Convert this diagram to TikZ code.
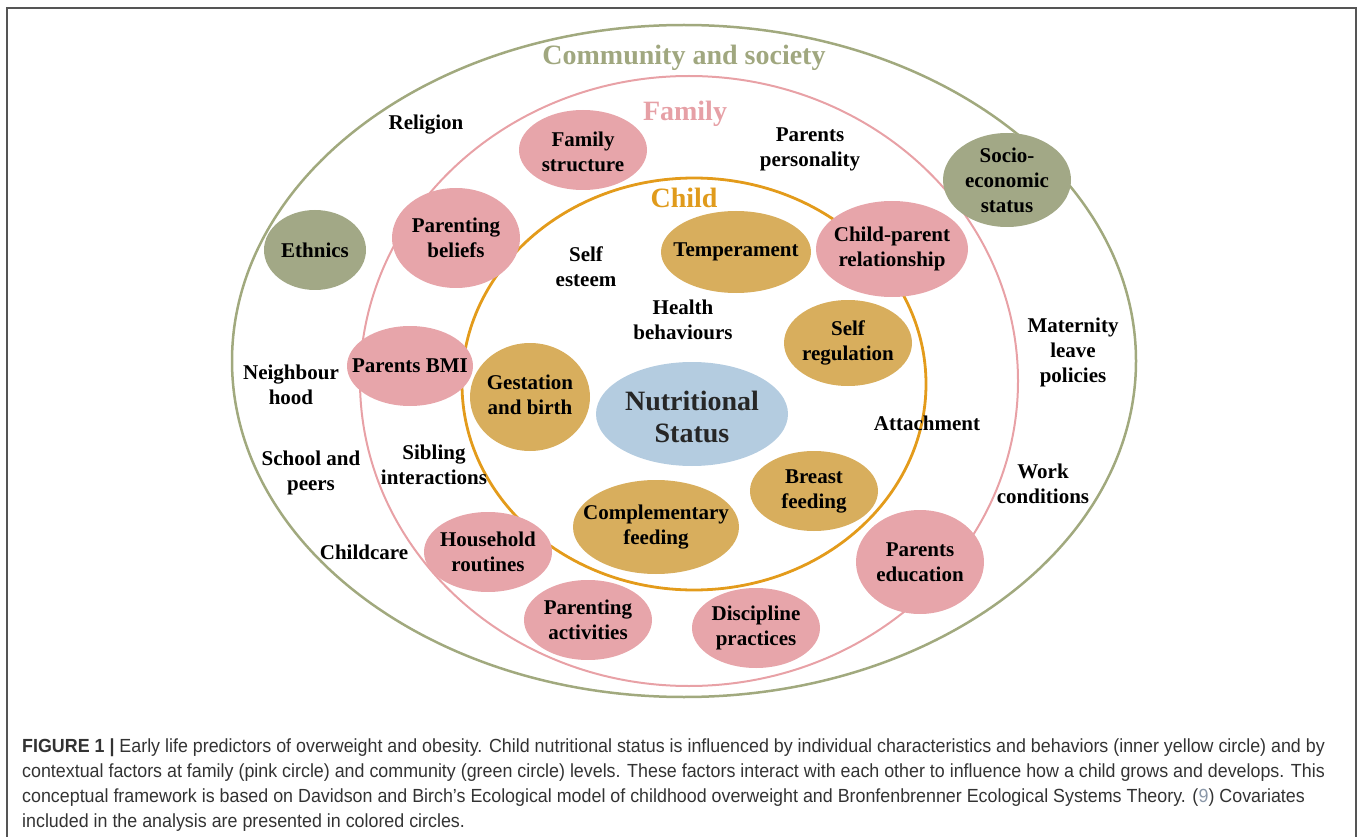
\documentclass[tikz,border=0pt]{standalone}
\usepackage{fontspec}
\setmainfont{Liberation Serif}
\newfontfamily\capfont[FakeStretch=0.94]{Liberation Sans}
\definecolor{gline}{HTML}{A1A97E}
\definecolor{gfill}{HTML}{A2A886}
\definecolor{pline}{HTML}{E8A1A6}
\definecolor{pfill}{HTML}{E7A5AA}
\definecolor{oline}{HTML}{E39B1B}
\definecolor{ofill}{HTML}{D8AE5D}
\definecolor{bfill}{HTML}{B4CCE0}
\definecolor{gtext}{HTML}{A0A77F}
\definecolor{ptext}{HTML}{E6A0A6}
\definecolor{otext}{HTML}{E09B1C}
\definecolor{capgray}{HTML}{333333}
\definecolor{refgray}{HTML}{8A97A8}
\definecolor{framegray}{HTML}{555555}
\tikzset{
  lab/.style={font=\bfseries\fontsize{21}{25}\selectfont, align=center, text=black, inner sep=0pt},
  head/.style={font=\bfseries\fontsize{28}{32}\selectfont, inner sep=0pt},
  captext/.style={anchor=base west, inner sep=0pt, font=\capfont\fontsize{19}{25}\selectfont, text=capgray},
  gblob/.style={fill=gfill},
  pblob/.style={fill=pfill},
  oblob/.style={fill=ofill},
  bblob/.style={fill=bfill},
}
\begin{document}
\begin{tikzpicture}[x=1pt,y=-1pt]
\useasboundingbox (0,0) rectangle (1358,837);
% frame
\draw[framegray, line width=1.3pt] (7,8) rectangle (1356,870);
% rings
\draw[gline, line width=2.5pt] (684,361) ellipse [x radius=452pt, y radius=336pt];
\draw[pline, line width=2pt] (689,381) ellipse [x radius=329pt, y radius=305pt];
\draw[oline, line width=2.8pt] (694,384) ellipse [x radius=232pt, y radius=206pt];
% headings
\node[head, text=gtext] (hcomm) at (684,58) {Community and society};
\node[head, text=ptext] (hfam) at (685,114) {Family};
\node[head, text=otext] (hchild) at (684,198) {Child};
% green blobs
\fill[gblob] (315,250) ellipse [x radius=51pt, y radius=40pt];
\node[lab] (ethnics) at (315,250) {Ethnics};
\fill[gblob] (1007,180) ellipse [x radius=64pt, y radius=47pt];
\node[lab] (ses) at (1007,180) {Socio-\\economic\\status};
% pink blobs
\fill[pblob] (583,150) ellipse [x radius=64pt, y radius=40pt];
\node[lab] (famstruct) at (583,152) {Family\\structure};
\fill[pblob] (456,238) ellipse [x radius=64pt, y radius=50pt];
\node[lab] (pbeliefs) at (456,238) {Parenting\\beliefs};
\fill[pblob] (410,366) ellipse [x radius=63pt, y radius=40pt];
\node[lab] (pbmi) at (410,366) {Parents BMI};
\fill[pblob] (892,249) ellipse [x radius=76pt, y radius=48pt];
\node[lab] (cpr) at (892,249) {Child-parent\\relationship};
\fill[pblob] (488,552) ellipse [x radius=64pt, y radius=40pt];
\node[lab] (hroutines) at (488,552) {Household\\routines};
\fill[pblob] (588,620) ellipse [x radius=64pt, y radius=40pt];
\node[lab] (pactivities) at (588,620) {Parenting\\activities};
\fill[pblob] (756,628) ellipse [x radius=64pt, y radius=40pt];
\node[lab] (discipline) at (756,628) {Discipline\\practices};
\fill[pblob] (920,562) ellipse [x radius=64pt, y radius=52pt];
\node[lab] (peducation) at (920,562) {Parents\\education};
% gold blobs
\fill[oblob] (736,252) ellipse [x radius=75pt, y radius=41pt];
\node[lab] (temper) at (736,252) {Temperament};
\fill[oblob] (848,343) ellipse [x radius=64pt, y radius=43pt];
\node[lab] (selfreg) at (848,343) {Self\\regulation};
\fill[oblob] (530,397) ellipse [x radius=60pt, y radius=54pt];
\node[lab] (gestation) at (530,395) {Gestation\\and birth};
\fill[oblob] (656,527) ellipse [x radius=83pt, y radius=47pt];
\node[lab] (compfeed) at (656,527) {Complementary\\feeding};
\fill[oblob] (814,491) ellipse [x radius=64pt, y radius=40pt];
\node[lab] (breast) at (814,491) {Breast\\feeding};
% centre
\fill[bblob] (692,414) ellipse [x radius=96pt, y radius=52pt];
\node[font=\bfseries\fontsize{28}{32}\selectfont, text=black!85, align=center, inner sep=0pt] (nutri) at (692,417) {Nutritional\\Status};
% plain labels
\node[lab] (religion) at (426,125) {Religion};
\node[lab] (ppers) at (810,149) {Parents\\personality};
\node[lab] (selfest) at (586,267) {Self\\esteem};
\node[lab] (health) at (683,320) {Health\\behaviours};
\node[lab] (neigh) at (291,385) {Neighbour\\hood};
\node[lab] (maternity) at (1073,352) {Maternity\\leave\\policies};
\node[lab] (attach) at (927,423) {Attachment};
\node[lab] (sibling) at (434,465) {Sibling\\interactions};
\node[lab] (school) at (311,473) {School and\\peers};
\node[lab] (work) at (1043,484) {Work\\conditions};
\node[lab] (childcare) at (364,552) {Childcare};
% caption
\node[captext] (cap1) at (22,752) {\bfseries FIGURE 1 | \mdseries Early life predictors of overweight and obesity. Child nutritional status is influenced by individual characteristics and behaviors (inner yellow circle) and by};
\node[captext] (cap2) at (22,777) {contextual factors at family (pink circle) and community (green circle) levels. These factors interact with each other to influence how a child grows and develops. This};
\node[captext] (cap3) at (22,802) {conceptual framework is based on Davidson and Birch’s Ecological model of childhood overweight and Bronfenbrenner Ecological Systems Theory. ({\color{refgray}9}) Covariates};
\node[captext] (cap4) at (22,827) {included in the analysis are presented in colored circles.};
\end{tikzpicture}
\end{document}
